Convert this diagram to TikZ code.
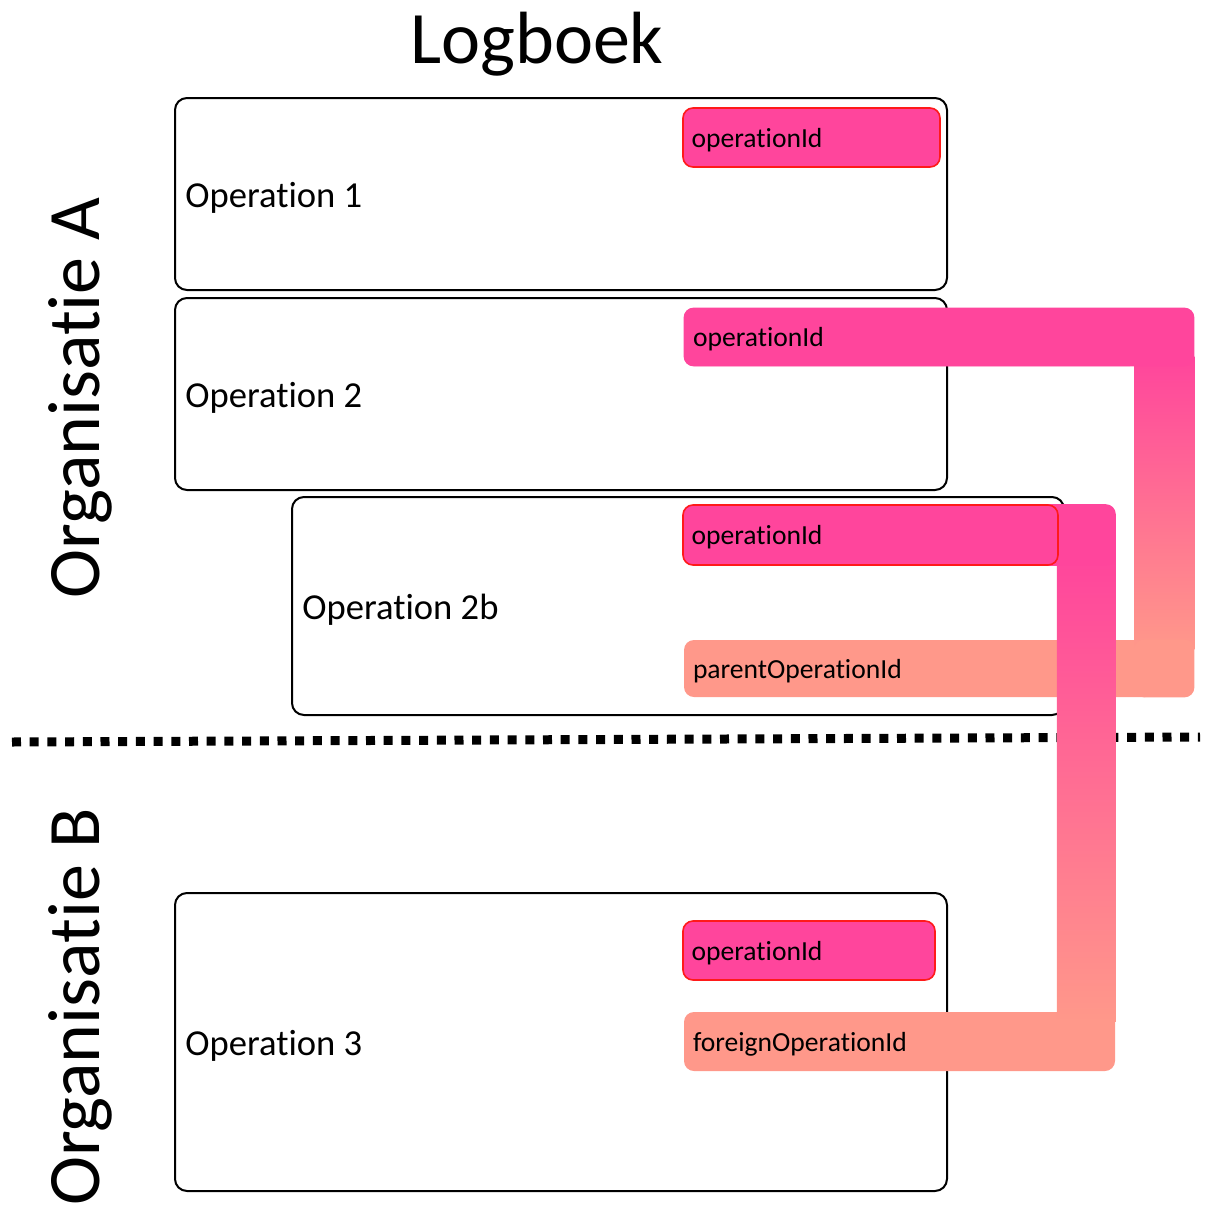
\documentclass[tikz,border=0pt]{standalone}
\usepackage{fontspec}
\setmainfont{Carlito}[Ligatures=NoCommon]
\usetikzlibrary{calc}
\definecolor{pinkc}{HTML}{FF459C}
\definecolor{salmonc}{HTML}{FF988A}
\definecolor{redb}{HTML}{FF1A1A}
\pgfdeclarelayer{bg}
\pgfdeclarelayer{connA}
\pgfdeclarelayer{connB}
\pgfsetlayers{bg,connA,connB,main}
\begin{document}
\begin{tikzpicture}[x=0.5pt, y=-0.5pt,
  opbox/.style={draw=black, line width=1pt, rounded corners=6pt, fill=white, minimum width=386pt, inner sep=0pt},
  pill/.style={rounded corners=5pt, inner sep=0pt, fill=pinkc},
  idpill/.style={pill, draw=redb, line width=0.8pt},
  parpill/.style={rounded corners=5pt, inner sep=0pt, fill=salmonc},
  oplabel/.style={font=\fontsize{18.3}{20}\selectfont, inner sep=0pt, anchor=base west, xshift=5.5pt, yshift=-6.75pt},
  pilltext/.style={font=\fontsize{13.8}{15}\selectfont, inner sep=0pt, anchor=base west, xshift=4.5pt, yshift=-4.75pt},
  biglabel/.style={font=\fontsize{37}{41}\selectfont, inner sep=0pt, anchor=base},
  dots/.style={line width=4.5pt, dash pattern=on 4.5pt off 4.35pt}
]
\useasboundingbox (0,0) rectangle (1211,1205);

% ---------- background: boxes and separator ----------
\begin{pgfonlayer}{bg}
\node[opbox, minimum height=96pt]  (box1)  at (561,194)  {};
\node[opbox, minimum height=96pt]  (box2)  at (561,394)  {};
\node[opbox, minimum height=109pt] (box2b) at (678,606)  {};
\node[opbox, minimum height=149pt] (box3)  at (561,1042) {};
\coordinate (sepL) at (12,742);
\coordinate (sepR) at (1200,737);
\draw[dots] (sepL) -- (sepR);
\end{pgfonlayer}

% ---------- titles ----------
\node[biglabel] (title) at (537,63) {Logboek};
\node[biglabel, rotate=90] (orgA) at (99,398) {Organisatie A};
\node[biglabel, rotate=90] (orgB) at (99,1007) {Organisatie B};

% ---------- operation labels ----------
\node[oplabel] (t1)  at (box1.west)  {Operation 1};
\node[oplabel] (t2)  at (box2.west)  {Operation 2};
\node[oplabel] (t2b) at (box2b.west) {Operation 2b};
\node[oplabel] (t3)  at (box3.west)  {Operation 3};

% ---------- id pills ----------
\node[idpill, minimum width=128.5pt, minimum height=29.5pt] (id1)  at (811.5,137.5) {};
\node[pill,   minimum width=228pt,   minimum height=29pt]   (id2)  at (912,337)     {};
\node[idpill, minimum width=187.5pt, minimum height=30pt]   (id2b) at (870.5,535)   {};
\node[idpill, minimum width=126pt,   minimum height=29.5pt] (id3)  at (809,950.5)   {};
\node[pilltext] (l1)  at (id1.west)  {operationId};
\node[pilltext] (l2)  at (id2.west)  {operationId};
\node[pilltext] (l2b) at (id2b.west) {operationId};
\node[pilltext] (l3)  at (id3.west)  {operationId};

% ---------- connector A: operationId (2) -> parentOperationId ----------
\begin{pgfonlayer}{connA}
\node[parpill, minimum width=235.5pt, minimum height=28.5pt] (parent) at (919.5,668.5) {};
\node[pilltext] (lp) at (parent.west) {parentOperationId};
\coordinate (aR) at ($(id2.east)+(54,0)$);
\coordinate (aL) at ($(id2.east)+(-6,0)$);
\shade[top color=pinkc, bottom color=salmonc]
  ($(aL |- id2.south)+(0,-10)$) rectangle ($(aR |- parent.north)+(0,10)$);
\fill[pinkc, rounded corners=5pt] (id2.north west) rectangle (aR |- id2.south);
\fill[salmonc, rounded corners=5pt] (aL |- parent.north) rectangle (aR |- parent.south);
\end{pgfonlayer}

% ---------- connector B: operationId (2b) -> foreignOperationId ----------
\begin{pgfonlayer}{connB}
\node[parpill, minimum width=215.5pt, minimum height=29.5pt] (foreign) at (899.5,1041.5) {};
\node[pilltext] (lf) at (foreign.west) {foreignOperationId};
\coordinate (bR) at ($(id2b.east)+(57,0)$);
\coordinate (bL) at ($(id2b.east)+(-2,0)$);
\shade[top color=pinkc, bottom color=salmonc]
  ($(bL |- id2b.south)+(0,-10)$) rectangle ($(bR |- foreign.north)+(0,10)$);
\fill[pinkc, rounded corners=5pt] (id2b.north) rectangle (bR |- id2b.south);
\end{pgfonlayer}
\end{tikzpicture}
\end{document}
